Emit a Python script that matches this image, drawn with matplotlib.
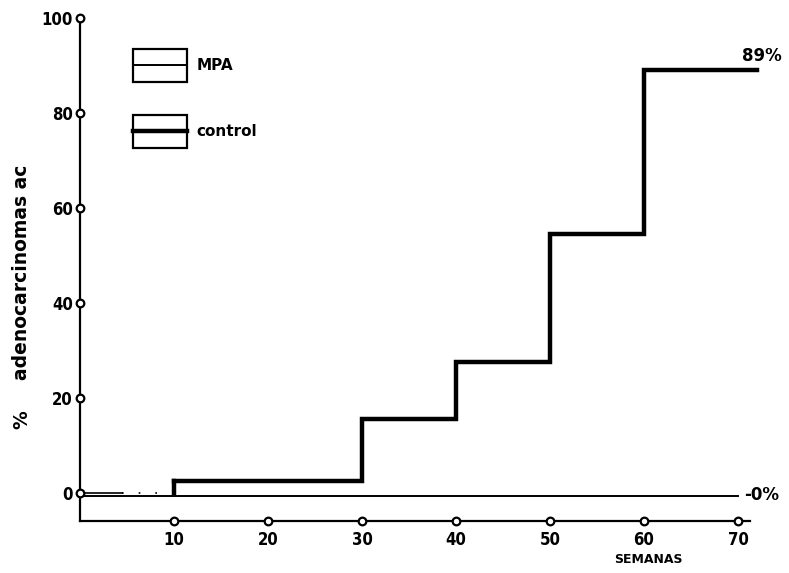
import matplotlib.pyplot as plt
from matplotlib.patches import Rectangle
from matplotlib.transforms import offset_copy

# weeks and cumulative % of adenocarcinomas
control_weeks = [0, 10, 30, 40, 50, 60, 72]
control_pct = [0, 2.5, 15.5, 27.5, 54.5, 89, 89]
mpa_weeks = [0, 70]
mpa_pct = [0, 0]

x_ticks = [10, 20, 30, 40, 50, 60, 70]
y_ticks = [0, 20, 40, 60, 80, 100]

fig = plt.figure(figsize=(7.89, 5.73), dpi=100)
ax = fig.add_axes([80 / 789, 1 - 521 / 573, 681.5 / 789, 503 / 573])
ax.set_xlim(0, 72.5)
ax.set_ylim(-6, 100)

for s in ["top", "right"]:
    ax.spines[s].set_visible(False)
ax.spines["left"].set_linewidth(1.6)
ax.spines["bottom"].set_linewidth(1.6)
ax.spines["bottom"].set_bounds(0, 71.3)

ax.set_xticks(x_ticks)
ax.set_yticks(y_ticks)
ax.tick_params(length=0, labelsize=12)
ax.tick_params(axis="x", pad=7)
ax.tick_params(axis="y", pad=5)
for lab in ax.get_xticklabels() + ax.get_yticklabels():
    lab.set_fontweight("bold")
    lab.set_fontstretch("condensed")

# circle markers on the axes at each tick
ax.plot(x_ticks, [-6] * len(x_ticks), "o", ms=5.5, mfc="white", mec="black",
        mew=1.6, clip_on=False, zorder=5)
ax.plot([0] * len(y_ticks), y_ticks, "o", ms=5.5, mfc="white", mec="black",
        mew=1.6, clip_on=False, zorder=5)

# MPA stays at 0 %, drawn a touch below the control line
shift = offset_copy(ax.transData, fig=fig, x=0, y=-3, units="dots")
ax.plot(mpa_weeks, mpa_pct, color="black", lw=1.4, transform=shift)

# control step curve
ax.step(control_weeks[1:], control_pct[1:], where="post", color="black", lw=3.2,
        solid_joinstyle="miter")
ax.plot([0, 4.5], [0, 0], color="black", lw=1.2)
ax.plot([4.5, 10], [0, 0], color="black", lw=1.2, ls=(0, (1, 9)))
ax.plot([10, 10], [0, 2.5], color="black", lw=3.2)

ax.text(72.5, 92, "89%", fontsize=12, fontweight="bold", ha="center", va="center")
ax.text(70.6, -0.5, "-0%", fontsize=12, fontweight="bold", ha="left", va="center")

# legend boxes
def legend_box(y0, lw, label):
    ax.add_patch(Rectangle((5.65, y0), 5.75, 7, fill=False, lw=1.6, ec="black"))
    ax.plot([5.65, 11.4], [y0 + 3.5, y0 + 3.5], color="black", lw=lw)
    ax.text(12.4, y0 + 3.5, label, fontsize=11, fontweight="bold", va="center")

legend_box(86.5, 1.4, "MPA")
legend_box(72.6, 3.2, "control")

ax.text(60.5, -14.2, "SEMANAS", fontsize=9, fontweight="bold", ha="center",
        va="center", clip_on=False)
fig.text(22 / 789, 1 - 420 / 573, "%", rotation=90,
         fontsize=13.5, fontweight="bold", ha="center", va="center")
fig.text(22 / 789, 1 - 272 / 573, "adenocarcinomas ac", rotation=90,
         fontsize=13.5, fontweight="bold", ha="center", va="center")

fig.savefig("out.png", dpi=100)
